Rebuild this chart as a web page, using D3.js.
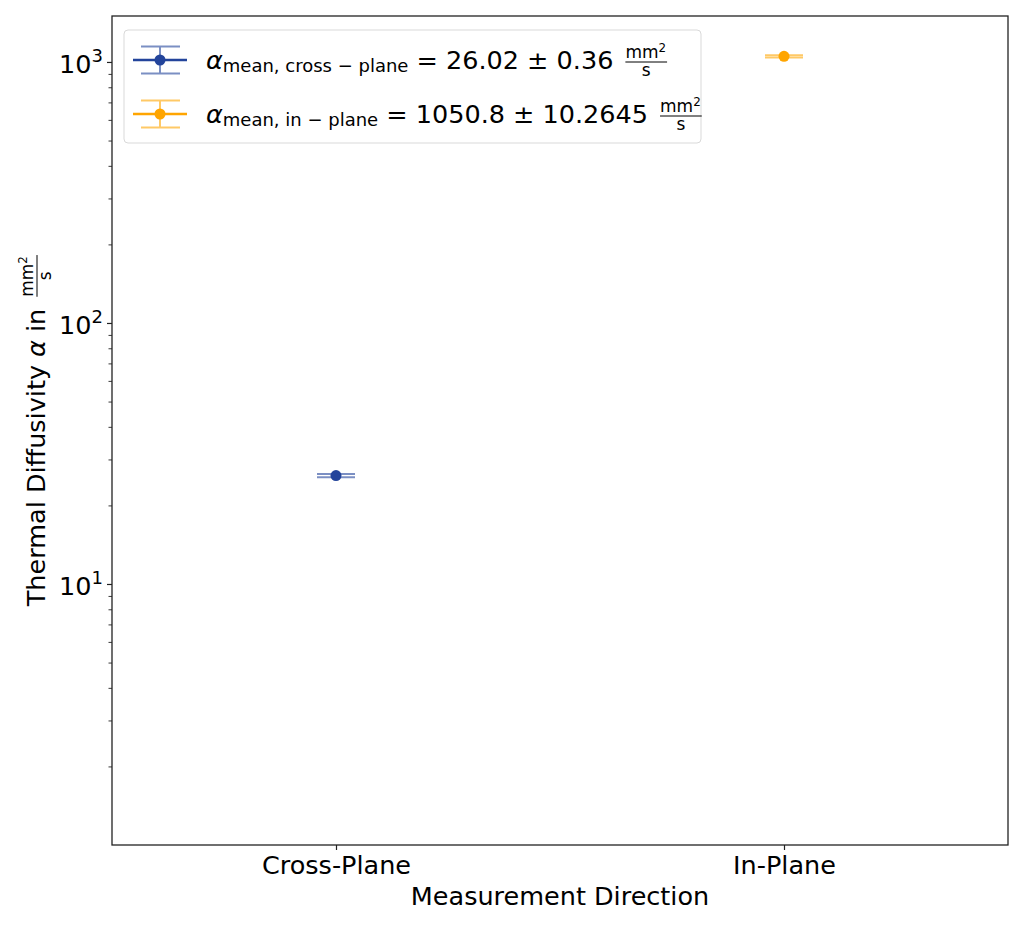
<!DOCTYPE html>
<html>
<head>
<meta charset="utf-8">
<script src="https://cdn.jsdelivr.net/npm/d3@7/dist/d3.min.js"></script>
<style>
  body { margin: 0; background: #fff; }
  text { font-family: "DejaVu Sans", sans-serif; fill: #000; }
</style>
</head>
<body>
<svg id="chart" width="1024" height="925"></svg>
<script>
// data
var directions = ["Cross-Plane", "In-Plane"];
var meanValues = [26.02, 1050.8];
var errValues = [0.36, 10.2645];
var seriesKeys = ["cross \u2212 plane", "in \u2212 plane"];
var meanLabels = ["26.02", "1050.8"];
var errLabels = ["0.36", "10.2645"];
var darkColors = ["#23449b", "#ffa500"];
var yTickValues = [10, 100, 1000];
var yTickExp = ["1", "2", "3"];

var svg = d3.select("#chart");
var margin = {left: 112, right: 1008, top: 16, bottom: 845};
var fs = 25.5;

var x = d3.scalePoint()
    .domain(directions)
    .range([margin.left, margin.right])
    .padding(0.5);

var y = d3.scaleLog()
    .domain([1, 1500])
    .range([margin.bottom, margin.top]);

// lighter colour for the error lines (alpha 0.6 on white)
var lightColor = function(c) {
    var rgb = d3.rgb(c);
    return d3.rgb(rgb.r * 0.6 + 255 * 0.4, rgb.g * 0.6 + 255 * 0.4, rgb.b * 0.6 + 255 * 0.4).toString();
};

/*
 * axes
 */
var minorTicks = [];
[1, 10, 100, 1000].forEach(function(dec) {
    for (var k = 2; k <= 9; k++) {
        if (dec * k <= 1500) minorTicks.push(dec * k);
    }
});

svg.append("g")
    .attr("transform", "translate(" + margin.left + ",0)")
    .call(d3.axisLeft(y).tickValues(minorTicks).tickSize(3.5).tickFormat(""))
    .call(function(g) { g.select(".domain").remove(); })
    .selectAll("line").attr("stroke", "#222").attr("stroke-width", 0.9);

var yAxis = svg.append("g")
    .attr("transform", "translate(" + margin.left + ",0)")
    .call(d3.axisLeft(y).tickValues(yTickValues).tickSize(5).tickPadding(4).tickFormat(""));
yAxis.select(".domain").remove();
yAxis.selectAll("line").attr("stroke", "#222").attr("stroke-width", 1.2);
yAxis.selectAll(".tick text").each(function(d, i) {
    var t = d3.select(this)
        .attr("dy", "0.4em")
        .attr("font-size", fs)
        .attr("font-family", "DejaVu Sans");
    t.append("tspan").text("10");
    t.append("tspan").attr("font-size", 18).attr("dy", -10.5).text(yTickExp[i]);
});

var xAxis = svg.append("g")
    .attr("transform", "translate(0," + margin.bottom + ")")
    .call(d3.axisBottom(x).tickSize(5).tickPadding(6));
xAxis.select(".domain").remove();
xAxis.selectAll("line").attr("stroke", "#222").attr("stroke-width", 1.2);
xAxis.selectAll("text")
    .attr("font-size", fs)
    .attr("font-family", "DejaVu Sans")
    .attr("fill", "#000");

svg.append("rect")
    .attr("x", margin.left)
    .attr("y", margin.top)
    .attr("width", margin.right - margin.left)
    .attr("height", margin.bottom - margin.top)
    .attr("fill", "none")
    .attr("stroke", "#222")
    .attr("stroke-width", 1.3);

// axis titles
svg.append("text")
    .attr("x", (margin.left + margin.right) / 2)
    .attr("y", 905)
    .attr("text-anchor", "middle")
    .attr("font-size", fs)
    .text("Measurement Direction");

var drawFrac = function(g, x0, yMid, size) {
    var top = g.append("text").attr("x", x0).attr("y", yMid - 4).attr("font-size", size);
    top.append("tspan").text("mm");
    top.append("tspan").attr("font-size", size * 0.7).attr("dy", -size * 0.38).text("2");
    var w = top.node().getComputedTextLength();
    g.append("line")
        .attr("x1", x0).attr("x2", x0 + w + 1)
        .attr("y1", yMid).attr("y2", yMid)
        .attr("stroke", "#000").attr("stroke-width", 1);
    g.append("text")
        .attr("x", x0 + (w + 1) / 2)
        .attr("y", yMid + size * 0.85)
        .attr("text-anchor", "middle")
        .attr("font-size", size)
        .text("s");
    return w;
};

var yl = svg.append("g")
    .attr("transform", "translate(45," + ((margin.top + margin.bottom) / 2) + ") rotate(-90)");
var ylText = yl.append("text").attr("font-size", fs);
ylText.append("tspan").text("Thermal Diffusivity ");
ylText.append("tspan").attr("font-style", "italic").text("\u03b1");
ylText.append("tspan").text(" in ");

var ylWidth = ylText.node().getComputedTextLength();
var fracW = 42, fracGap = 12;
var ylStart = -(ylWidth + fracGap + fracW) / 2;
// centre the whole label on the axes
ylText.attr("x", ylStart);
drawFrac(yl, ylStart + ylWidth + fracGap, -8, 17);

/*
 * error bars and markers
 */
var capHalf = 19;
var bars = svg.append("g").selectAll("g")
    .data(directions)
    .enter().append("g");

bars.each(function(d, i) {
    var g = d3.select(this);
    var cx = x(d);
    var lo = y(meanValues[i] - errValues[i]);
    var hi = y(meanValues[i] + errValues[i]);
    var lc = lightColor(darkColors[i]);
    g.append("line")
        .attr("x1", cx).attr("x2", cx).attr("y1", lo).attr("y2", hi)
        .attr("stroke", lc).attr("stroke-width", 2);
    [lo, hi].forEach(function(yy) {
        g.append("line")
            .attr("x1", cx - capHalf).attr("x2", cx + capHalf)
            .attr("y1", yy).attr("y2", yy)
            .attr("stroke", lc).attr("stroke-width", 2);
    });
    g.append("circle")
        .attr("cx", cx).attr("cy", y(meanValues[i]))
        .attr("r", 5.5)
        .attr("fill", darkColors[i]);
});

/*
 * legend
 */
var legend = svg.append("g");
legend.append("rect")
    .attr("x", 124).attr("y", 30)
    .attr("width", 577).attr("height", 113)
    .attr("rx", 4)
    .attr("fill", "#fff").attr("fill-opacity", 0.8)
    .attr("stroke", "#d9d9d9").attr("stroke-width", 1);

var rowY = [60, 114];
seriesKeys.forEach(function(key, i) {
    var cy = rowY[i];
    var lc = lightColor(darkColors[i]);
    var row = legend.append("g");
    row.append("line")
        .attr("x1", 160).attr("x2", 160).attr("y1", cy - 13.5).attr("y2", cy + 13.5)
        .attr("stroke", lc).attr("stroke-width", 2);
    [cy - 13.5, cy + 13.5].forEach(function(yy) {
        row.append("line")
            .attr("x1", 141).attr("x2", 180).attr("y1", yy).attr("y2", yy)
            .attr("stroke", lc).attr("stroke-width", 2);
    });
    row.append("line")
        .attr("x1", 133).attr("x2", 187).attr("y1", cy).attr("y2", cy)
        .attr("stroke", darkColors[i]).attr("stroke-width", 2.5);
    row.append("circle")
        .attr("cx", 160).attr("cy", cy).attr("r", 5.5)
        .attr("fill", darkColors[i]);

    var t = row.append("text")
        .attr("x", 206).attr("y", cy + 9)
        .attr("font-size", fs);
    t.append("tspan").attr("font-style", "italic").text("\u03b1");
    t.append("tspan").attr("font-size", 18).attr("dy", 3).text("mean, " + key);
    t.append("tspan").attr("dy", -3).text(" = " + meanLabels[i] + " \u00b1 " + errLabels[i]);
    var tw = t.node().getComputedTextLength();
    drawFrac(row, 206 + tw + 12, cy + 2, 17);
});
</script>
</body>
</html>
